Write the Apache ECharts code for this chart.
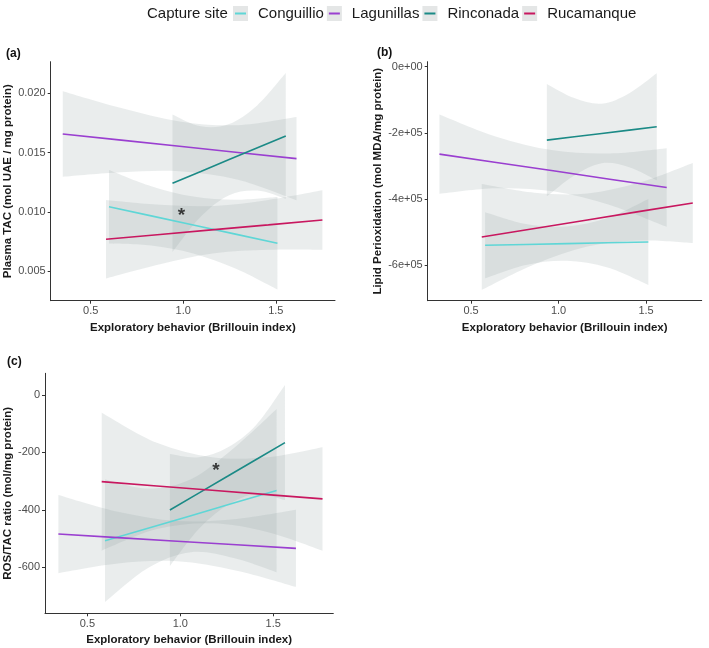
<!DOCTYPE html>
<html><head><meta charset="utf-8">
<script src="https://cdn.jsdelivr.net/npm/echarts@6/dist/echarts.min.js"></script>
<style>html,body{margin:0;padding:0;background:#fff}#c{width:709px;height:648px}</style>
</head><body><div id="c"></div>
<script>
// ---------- data ----------
const sites = ['Conguillio', 'Lagunillas', 'Rinconada', 'Rucamanque'];

// rows: [x, fitted, lower CI, upper CI]
// Panel (a) Plasma TAC
const a_Conguillio = [[0.599,0.01044,0.00734,0.01354],[0.827,0.00967,0.00717,0.01217],[1.054,0.00890,0.00650,0.01130],[1.282,0.00813,0.00523,0.01103],[1.509,0.00736,0.00346,0.01126]];
const a_Lagunillas = [[0.349,0.01657,0.01297,0.02017],[0.665,0.01605,0.01335,0.01875],[0.980,0.01553,0.01343,0.01763],[1.296,0.01501,0.01271,0.01731],[1.612,0.01449,0.01099,0.01799]];
const a_Rinconada  = [[0.942,0.01242,0.00662,0.01822],[1.095,0.01341,0.00961,0.01721],[1.248,0.01441,0.01141,0.01741],[1.401,0.01540,0.01180,0.01900],[1.554,0.01640,0.01110,0.02170]];
const a_Rucamanque = [[0.583,0.00770,0.00440,0.01100],[0.875,0.00810,0.00560,0.01060],[1.168,0.00851,0.00651,0.01051],[1.460,0.00891,0.00681,0.01101],[1.752,0.00932,0.00682,0.01182]];
// Panel (b) Lipid peroxidation
const b_Conguillio = [[0.580,-540300,-640300,-440300],[0.813,-537800,-599800,-475800],[1.047,-535300,-587300,-483300],[1.280,-532700,-607700,-457700],[1.513,-530200,-660200,-400200]];
const b_Lagunillas = [[0.319,-264500,-384500,-144500],[0.644,-289800,-367800,-211800],[0.969,-315000,-377000,-253000],[1.293,-340300,-418300,-262300],[1.618,-365500,-484500,-246500]];
const b_Rinconada  = [[0.933,-222100,-392100,-52100],[1.090,-212000,-329000,-95000],[1.247,-202000,-292000,-112000],[1.404,-192000,-304000,-80000],[1.561,-181800,-343800,-19800]];
const b_Rucamanque = [[0.561,-515100,-675100,-355100],[0.863,-489300,-597300,-381300],[1.164,-463600,-543600,-383600],[1.466,-437800,-525800,-349800],[1.767,-412100,-533100,-291100]];
// Panel (c) ROS/TAC ratio
const c_Conguillio = [[0.595,-507.6,-720.6,-294.6],[0.826,-464.0,-602.0,-326.0],[1.057,-420.3,-547.3,-293.3],[1.287,-376.6,-567.6,-185.6],[1.518,-333.0,-617.0,-49.0]];
const c_Lagunillas = [[0.344,-484.3,-620.3,-348.3],[0.664,-496.7,-586.7,-406.7],[0.983,-509.1,-579.1,-439.1],[1.303,-521.6,-611.6,-431.6],[1.622,-534.0,-668.0,-400.0]];
const c_Rinconada  = [[0.944,-400.7,-595.7,-205.7],[1.099,-342.0,-467.0,-217.0],[1.254,-283.4,-383.4,-183.4],[1.408,-224.8,-344.8,-104.8],[1.563,-166.0,-366.0,34.0]];
const c_Rucamanque = [[0.577,-302.0,-542.0,-62.0],[0.874,-317.0,-467.0,-167.0],[1.171,-332.0,-447.0,-217.0],[1.468,-347.0,-477.0,-217.0],[1.765,-362.0,-542.0,-182.0]];

// significance markers
const a_star = [0.991, 0.01002];
const c_star = [1.192, -250];

// tick values and labels
const xTicks = [0.5, 1.0, 1.5];
const xLabels = ['0.5', '1.0', '1.5'];
const aYTicks = [0.005, 0.010, 0.015, 0.020];
const aYLabels = ['0.005', '0.010', '0.015', '0.020'];
const bYTicks = [-600000, -400000, -200000, 0];
const bYLabels = ['-6e+05', '-4e+05', '-2e+05', '0e+00'];
const cYTicks = [-600, -400, -200, 0];
const cYLabels = ['-600', '-400', '-200', '0'];

// ---------- styles / layout ----------
const siteColors = ['#5fd6d6', '#9a3fd0', '#1b8a86', '#c8175f'];
const bandFill = 'rgba(145,160,160,0.19)';
const FONT = '"Liberation Sans", Arial, sans-serif';

const panels = [
  {key:'a', data:[a_Conguillio,a_Lagunillas,a_Rinconada,a_Rucamanque], grid:{left:50.7, top:61.7, width:284.3, height:239},
   xmin:0.284, xmax:1.82, ymin:0.00252, ymax:0.02266, yT:aYTicks, yL:aYLabels,
   yName:'Plasma TAC (mol UAE / mg protein)', yGap:32, star:a_star},
  {key:'b', data:[b_Conguillio,b_Lagunillas,b_Rinconada,b_Rucamanque], grid:{left:427.7, top:61.7, width:274, height:239},
   xmin:0.252, xmax:1.818, ymin:-707900, ymax:15100, yT:bYTicks, yL:bYLabels,
   yName:'Lipid Perioxidation (mol MDA/mg protein)', yGap:39, star:null},
  {key:'c', data:[c_Conguillio,c_Lagunillas,c_Rinconada,c_Rucamanque], grid:{left:45, top:373.3, width:288.3, height:240},
   xmin:0.272, xmax:1.823, ymin:-760, ymax:75, yT:cYTicks, yL:cYLabels,
   yName:'ROS/TAC ratio (mol/mg protein)', yGap:31, star:c_star}
];

function labelFor(ticks, labels) {
  return function (v) {
    let best = 0, bd = Infinity;
    ticks.forEach((t, i) => { const d = Math.abs(t - v); if (d < bd) { bd = d; best = i; } });
    return labels[best];
  };
}

// smooth curve (Catmull-Rom as cubic Bezier) through pixel points
function curveThrough(pts) {
  let d = '';
  for (let i = 0; i < pts.length - 1; i++) {
    const p0 = pts[Math.max(i - 1, 0)], p1 = pts[i], p2 = pts[i + 1], p3 = pts[Math.min(i + 2, pts.length - 1)];
    const c1 = [p1[0] + (p2[0] - p0[0]) / 6, p1[1] + (p2[1] - p0[1]) / 6];
    const c2 = [p2[0] - (p3[0] - p1[0]) / 6, p2[1] - (p3[1] - p1[1]) / 6];
    d += ' C' + c1[0] + ',' + c1[1] + ' ' + c2[0] + ',' + c2[1] + ' ' + p2[0] + ',' + p2[1];
  }
  return d;
}

function bandRenderer(rows) {
  return function (params, api) {
    if (params.dataIndex !== 0) return null;
    const up = rows.map(r => api.coord([r[0], r[3]]));
    const lo = rows.map(r => api.coord([r[0], r[2]])).reverse();
    let d = 'M' + up[0][0] + ',' + up[0][1] + curveThrough(up);
    d += ' L' + lo[0][0] + ',' + lo[0][1] + curveThrough(lo) + ' Z';
    return {type:'path', shape:{pathData:d}, style:{fill:bandFill, stroke:null}};
  };
}

const grids = [], xAxes = [], yAxes = [], series = [];
panels.forEach((p, i) => {
  grids.push(Object.assign({containLabel:false}, p.grid));
  xAxes.push({
    type:'value', gridIndex:i, min:p.xmin, max:p.xmax,
    axisLine:{show:true, onZero:false, lineStyle:{color:'#333', width:1}},
    axisTick:{show:true, length:3, customValues:xTicks, lineStyle:{color:'#333'}},
    axisLabel:{customValues:xTicks, formatter:labelFor(xTicks, xLabels), color:'#4d4d4d', fontSize:11, margin:5, fontFamily:FONT},
    splitLine:{show:false},
    name:'Exploratory behavior (Brillouin index)', nameLocation:'middle', nameGap:21,
    nameTextStyle:{fontWeight:'bold', fontSize:11.5, color:'#1a1a1a', fontFamily:FONT}
  });
  yAxes.push({
    type:'value', gridIndex:i, min:p.ymin, max:p.ymax,
    axisLine:{show:true, onZero:false, lineStyle:{color:'#333', width:1}},
    axisTick:{show:true, length:3, customValues:p.yT, lineStyle:{color:'#333'}},
    axisLabel:{customValues:p.yT, formatter:labelFor(p.yT, p.yL), color:'#4d4d4d', fontSize:11, margin:5, fontFamily:FONT},
    splitLine:{show:false},
    name:p.yName, nameLocation:'middle', nameGap:p.yGap,
    nameTextStyle:{fontWeight:'bold', fontSize:11.5, color:'#1a1a1a', fontFamily:FONT}
  });
  // confidence bands
  p.data.forEach((rows, s) => {
    series.push({
      type:'custom', name:sites[s] + ' band', coordinateSystem:'cartesian2d', xAxisIndex:i, yAxisIndex:i,
      data:rows.map(r => [r[0], r[2], r[3]]), encode:{x:0, y:[1, 2]},
      renderItem:bandRenderer(rows), silent:true, z:1, clip:true
    });
  });
  // fitted lines
  p.data.forEach((rows, s) => {
    series.push({
      type:'line', name:sites[s], xAxisIndex:i, yAxisIndex:i,
      data:rows.map(r => [r[0], r[1]]), symbol:'none', z:3,
      color:siteColors[s], lineStyle:{color:siteColors[s], width:1.6}
    });
  });
  if (p.star) {
    series.push({
      type:'scatter', xAxisIndex:i, yAxisIndex:i, data:[p.star], symbolSize:1, z:5, silent:true,
      itemStyle:{color:'rgba(0,0,0,0)'},
      label:{show:true, position:'inside', formatter:'*', fontSize:19, fontWeight:'bold', color:'#111', offset:[0,4], fontFamily:FONT}
    });
  }
});

const legendCommon = {
  orient:'horizontal', top:6, padding:0, itemGap:5, data:sites, selectedMode:false
};

const option = {
  animation:false,
  backgroundColor:'#fff',
  textStyle:{fontFamily:FONT},
  title:[
    {text:'Capture site', left:147, top:6, padding:0, textStyle:{fontSize:15, fontWeight:'normal', color:'#1a1a1a', fontFamily:FONT}},
    {text:'(a)', left:6, top:48, padding:0, textStyle:{fontSize:12, fontWeight:'bold', color:'#111', fontFamily:FONT}},
    {text:'(b)', left:377, top:47, padding:0, textStyle:{fontSize:12, fontWeight:'bold', color:'#111', fontFamily:FONT}},
    {text:'(c)', left:7, top:356, padding:0, textStyle:{fontSize:12, fontWeight:'bold', color:'#111', fontFamily:FONT}}
  ],
  legend:[
    Object.assign({}, legendCommon, {left:233, icon:'rect', itemWidth:15, itemHeight:15,
      itemStyle:{color:'#e4e6e6'}, textStyle:{fontSize:15, fontFamily:FONT, color:'rgba(0,0,0,0)', padding:[0,0,0,3]}}),
    Object.assign({}, legendCommon, {left:235, icon:'rect', itemWidth:11, itemHeight:2,
      textStyle:{fontSize:15, fontFamily:FONT, color:'#1a1a1a', padding:[0,0,0,7]}})
  ],
  grid:grids, xAxis:xAxes, yAxis:yAxes, series:series
};

const chart = echarts.init(document.getElementById('c'), null, {renderer:'canvas'});
chart.setOption(option);
</script>
</body></html>
